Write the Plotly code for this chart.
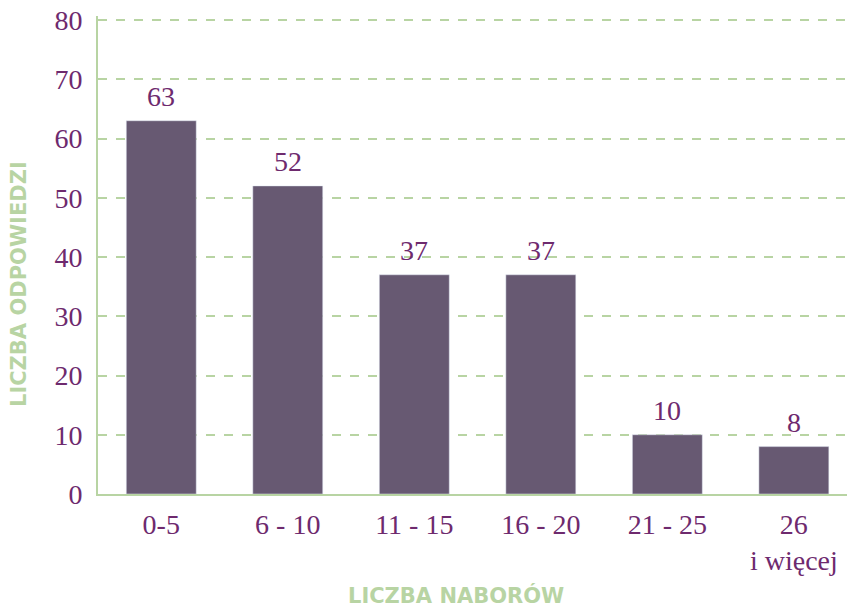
import plotly.graph_objects as go

categories = ["0-5", "6 - 10", "11 - 15", "16 - 20", "21 - 25", "26<br>i więcej"]
values = [63, 52, 37, 37, 10, 8]
y_ticks = [0, 10, 20, 30, 40, 50, 60, 70, 80]

PURPLE = "#6e2a6e"
GREEN = "#b8d4a3"
BAR = "#675972"
SERIF = "Liberation Serif, DejaVu Serif, serif"
SANS = "DejaVu Sans, Noto Sans, sans-serif"

fig = go.Figure(go.Bar(
    x=categories, y=values,
    marker_color=BAR, width=0.553,
))

value_labels = [
    dict(x=c, y=v, xref="x", yref="y", text=str(v), showarrow=False,
         yanchor="bottom", yshift=7,
         font=dict(family=SERIF, size=28, color=PURPLE))
    for c, v in zip(categories, values)
]

fig.update_layout(
    width=847, height=607,
    margin=dict(l=98, r=0, t=16, b=113),
    paper_bgcolor="white", plot_bgcolor="white",
    showlegend=False,
    xaxis=dict(
        range=[-0.5, 5.42],
        showline=True, linecolor=GREEN, linewidth=2,
        showgrid=False, ticks="outside", ticklen=4, tickcolor="rgba(0,0,0,0)",
        tickfont=dict(family=SERIF, size=28, color=PURPLE),
    ),
    yaxis=dict(
        range=[0, 478 / 5.925], tickvals=y_ticks,
        showline=True, linecolor=GREEN, linewidth=2,
        showgrid=True, gridcolor=GREEN, gridwidth=2, griddash="dash",
        zeroline=False,
        ticks="outside", ticklen=8, tickcolor="rgba(0,0,0,0)",
        tickfont=dict(family=SERIF, size=28, color=PURPLE),
    ),
    annotations=value_labels + [
        dict(text="<b>LICZBA NABORÓW</b>", xref="paper", yref="paper",
             x=(456 - 98) / 749, y=-(595 - 494) / 478, showarrow=False,
             font=dict(family=SANS, size=21, color=GREEN),
             xanchor="center", yanchor="middle"),
        dict(text="<b>LICZBA ODPOWIEDZI</b>", xref="paper", yref="paper",
             x=-(98 - 19) / 749, y=(494 - 284) / 478, showarrow=False, textangle=-90,
             font=dict(family=SANS, size=21, color=GREEN),
             xanchor="center", yanchor="middle"),
    ],
)

fig.write_html("out.html", config={"displayModeBar": False},
               post_script="document.body.style.margin='0';document.body.style.overflow='hidden';")
